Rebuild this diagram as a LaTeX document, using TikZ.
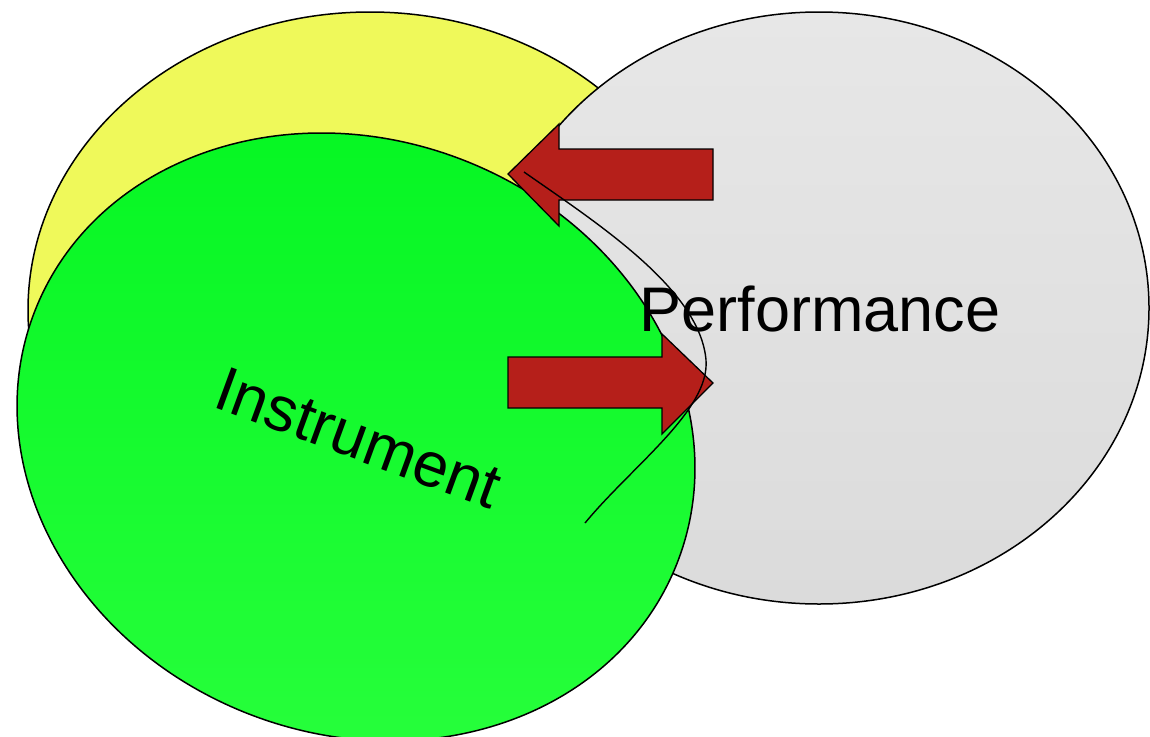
\documentclass[tikz,border=0pt]{standalone}
\usepackage{fontspec}
\setmainfont{Liberation Sans}
\definecolor{lemon}{RGB}{239,249,90}
\definecolor{greytop}{RGB}{231,231,231}
\definecolor{greybot}{RGB}{219,219,219}
\definecolor{leaftop}{RGB}{4,246,34}
\definecolor{leafbot}{RGB}{40,255,60}
\definecolor{brick}{RGB}{181,31,26}
\tikzset{
  outline/.style={draw=black, line width=1.5pt},
  blockarrow/.style={draw=black, line width=1.3pt, fill=brick, line join=miter},
  bigword/.style={inner sep=0pt, font=\fontsize{63}{75}\selectfont},
}
\begin{document}
\begin{tikzpicture}[x=1pt, y=-1pt]
  \useasboundingbox (0,0) rectangle (1150,736);
  \clip (0,0) rectangle (1150,736);
  % back circle
  \draw[outline, fill=lemon] (370,310) ellipse [x radius=342, y radius=298];
  % performance circle
  \draw[outline, top color=greytop, bottom color=greybot] (819,308) ellipse [x radius=330, y radius=296];
  % instrument circle, tilted
  \draw[outline, top color=leaftop, bottom color=leafbot, rotate around={-21.6:(356,437)}]
    (356,437) ellipse [x radius=345, y radius=297];
  % block arrows
  \draw[blockarrow] (508,174) -- (559,124) -- (559,149) -- (713,149) -- (713,200)
    -- (559,200) -- (559,226) -- cycle;
  \draw[blockarrow] (713,383) -- (662,334) -- (662,357) -- (508,357) -- (508,408)
    -- (662,408) -- (662,434) -- cycle;
  % labels
  \node[bigword, anchor=base] (perf) at (820,331) {Performance};
  \node[bigword, anchor=base, rotate=-20.1] (instr) at (351,458) {Instrument};
  % freehand stroke
  \draw[line width=1.4pt] (524,172) .. controls (600,225) and (700,290) .. (706,360)
    .. controls (710,410) and (632,466) .. (585,523);
\end{tikzpicture}
\end{document}
